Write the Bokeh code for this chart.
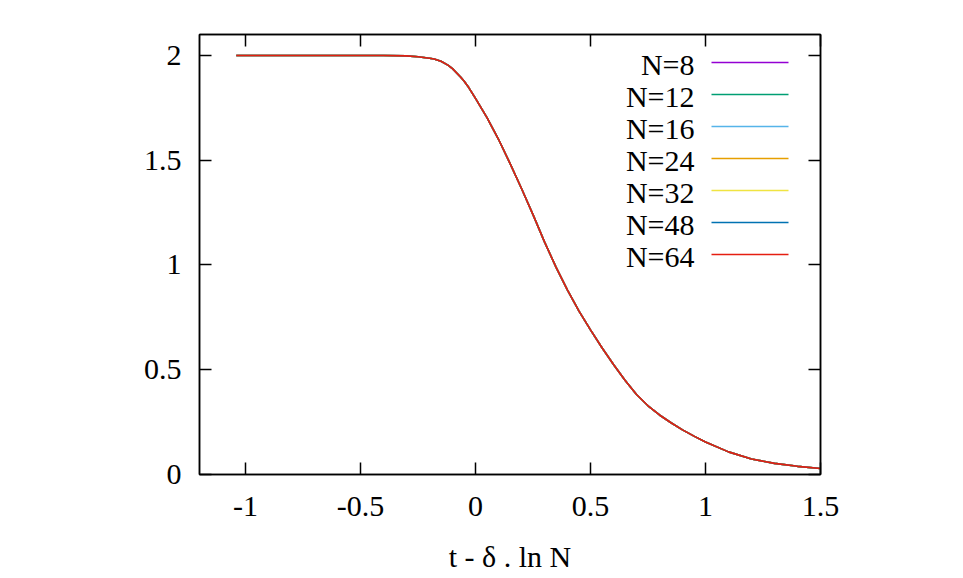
from bokeh.plotting import figure
from bokeh.models import LinearAxis, FixedTicker, Range1d, Label, BoxAnnotation
from bokeh.embed import file_html
from bokeh.resources import INLINE

# ---- data ----
n_values = [8, 12, 16, 24, 32, 48, 64]
series_labels = ["N=8", "N=12", "N=16", "N=24", "N=32", "N=48", "N=64"]
series_colors = ["#9400d3", "#009e73", "#56b4e9", "#e69f00", "#f0e442", "#0072b2", "#e51e10"]

# scaled time t - delta*ln N (all system sizes collapse onto one curve)
x_scaled = [-1.04, -0.6, -0.4, -0.3, -0.25, -0.2, -0.18, -0.15, -0.12, -0.1,
            -0.065, -0.05, -0.03, 0.0, 0.05, 0.1, 0.15, 0.2, 0.25, 0.3,
            0.35, 0.4, 0.45, 0.5, 0.55, 0.6, 0.65, 0.7, 0.75, 0.8,
            0.85, 0.9, 0.95, 1.0, 1.1, 1.2, 1.3, 1.4, 1.5]
y_value = [2.0, 2.0, 2.0, 1.998, 1.994, 1.987, 1.983, 1.972, 1.954, 1.937,
           1.897, 1.878, 1.848, 1.795, 1.703, 1.60, 1.485, 1.365, 1.24, 1.11,
           0.99, 0.88, 0.78, 0.69, 0.605, 0.525, 0.45, 0.382, 0.328, 0.284,
           0.247, 0.213, 0.183, 0.155, 0.108, 0.074, 0.053, 0.039, 0.029]
series_x = {n: x_scaled for n in n_values}
series_y = {n: y_value for n in n_values}

x_ticks = [-1, -0.5, 0, 0.5, 1, 1.5]
x_tick_labels = ["-1", "-0.5", "0", "0.5", "1", "1.5"]
y_ticks = [0, 0.5, 1, 1.5, 2]
y_tick_labels = ["0", "0.5", "1", "1.5", "2"]
x_label = "t - \u03b4 . ln N"

FONT = "Liberation Serif"
FS = "30px"

p = figure(width=963, height=578, output_backend="svg", toolbar_location=None,
           x_range=Range1d(-1.2, 1.5), y_range=Range1d(0, 2.1),
           min_border_left=199, min_border_right=143,
           min_border_top=34, min_border_bottom=104)
p.background_fill_color = "white"
p.border_fill_color = "white"
p.xgrid.visible = False
p.ygrid.visible = False
p.outline_line_color = "black"
p.outline_line_width = 1.5


def style_axis(ax, ticks, labels, show_labels=True, standoff=15):
    ax.ticker = FixedTicker(ticks=ticks)
    ax.major_label_overrides = dict(zip(ticks, labels))
    ax.major_tick_in = 12
    ax.major_tick_out = 0
    ax.minor_tick_in = 0
    ax.minor_tick_out = 0
    ax.major_tick_line_color = "black"
    ax.major_tick_line_width = 1.5
    ax.axis_line_color = "black"
    ax.axis_line_width = 1.5
    ax.major_label_text_font = FONT
    ax.major_label_text_font_size = FS
    if show_labels:
        ax.major_label_text_color = "black"
        ax.major_label_standoff = standoff
    else:
        ax.major_label_text_color = None
        ax.major_label_standoff = 0


style_axis(p.xaxis[0], x_ticks, x_tick_labels, standoff=22)
style_axis(p.yaxis[0], y_ticks, y_tick_labels, standoff=18)
p.xaxis[0].axis_label = x_label
p.xaxis[0].axis_label_text_font = FONT
p.xaxis[0].axis_label_text_font_size = FS
p.xaxis[0].axis_label_text_font_style = "normal"
p.xaxis[0].axis_label_text_color = "black"
p.xaxis[0].axis_label_standoff = 21

top_ax = LinearAxis()
style_axis(top_ax, x_ticks, x_tick_labels, show_labels=False)
p.add_layout(top_ax, "above")
right_ax = LinearAxis()
style_axis(right_ax, y_ticks, y_tick_labels, show_labels=False)
p.add_layout(right_ax, "right")

for n, c in zip(n_values, series_colors):
    p.line(series_x[n], series_y[n], line_color=c, line_width=1.6, line_join="round")

# gnuplot-style key: label right-aligned, then line sample
for i, (lab, c) in enumerate(zip(series_labels, series_colors)):
    p.add_layout(Label(x=495, y=410 - 32 * i, x_units="screen", y_units="screen",
                       text=lab, text_align="right", text_baseline="middle",
                       text_font=FONT, text_font_size=FS, text_color="black"))
    p.add_layout(BoxAnnotation(left=512, right=589, bottom=411.25 - 32 * i, top=412.75 - 32 * i,
                               left_units="screen", right_units="screen",
                               bottom_units="screen", top_units="screen",
                               fill_color=c, fill_alpha=1.0, line_color=None))

open("out.html", "w").write(file_html(p, INLINE))
